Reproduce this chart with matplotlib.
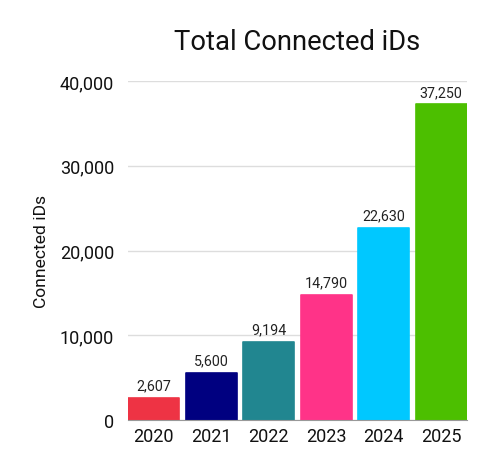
import matplotlib
matplotlib.use("Agg")
import matplotlib.pyplot as plt
from matplotlib.ticker import FuncFormatter

years = ["2020", "2021", "2022", "2023", "2024", "2025"]
values = [2607, 5600, 9194, 14790, 22630, 37250]
colors = ["#EE3344", "#000080", "#218690", "#FF3388", "#00C8FF", "#4CBF00"]
yticks = [0, 10000, 20000, 30000, 40000]

plt.rcParams['font.family'] = ['Roboto', 'DejaVu Sans']

fig = plt.figure(figsize=(5, 4.77), dpi=100)
ax = fig.add_axes([128/500, 1-421/477, (467-128)/500, (421-82)/477])

x = list(range(len(years)))
bars = ax.bar(x, values, width=0.88, color=colors, edgecolor=colors,
              linewidth=1.2, joinstyle='round', zorder=3)
for xi, v in zip(x, values):
    ax.text(xi, v + 650, f"{v:,}", ha='center', va='bottom', fontsize=10.3, color='#222222')

ax.set_xlim(-0.448, 5.448)
ax.set_ylim(0, 40000)
ax.set_yticks(yticks)
ax.yaxis.set_major_formatter(FuncFormatter(lambda v, p: f"{int(v):,}"))
ax.set_xticks(x)
ax.set_xticklabels(years)
ax.tick_params(axis='y', length=0, labelsize=13, colors='#111111', pad=10)
ax.tick_params(axis='x', length=0, labelsize=13, colors='#111111', pad=5)
ax.grid(axis='y', color='#DDDDDD', linewidth=1, zorder=0)
for s in ['top', 'right', 'left']:
    ax.spines[s].set_visible(False)
ax.spines['bottom'].set_color('#999999')
ax.spines['bottom'].set_zorder(4)
ax.set_ylabel("Connected iDs", fontsize=12.6, color='#111111', labelpad=8)
fig.text(297/500, 1-42/477, "Total Connected iDs", ha='center', va='center', fontsize=19.7, color='#111111')

fig.savefig("out.png", dpi=100, facecolor='white')
